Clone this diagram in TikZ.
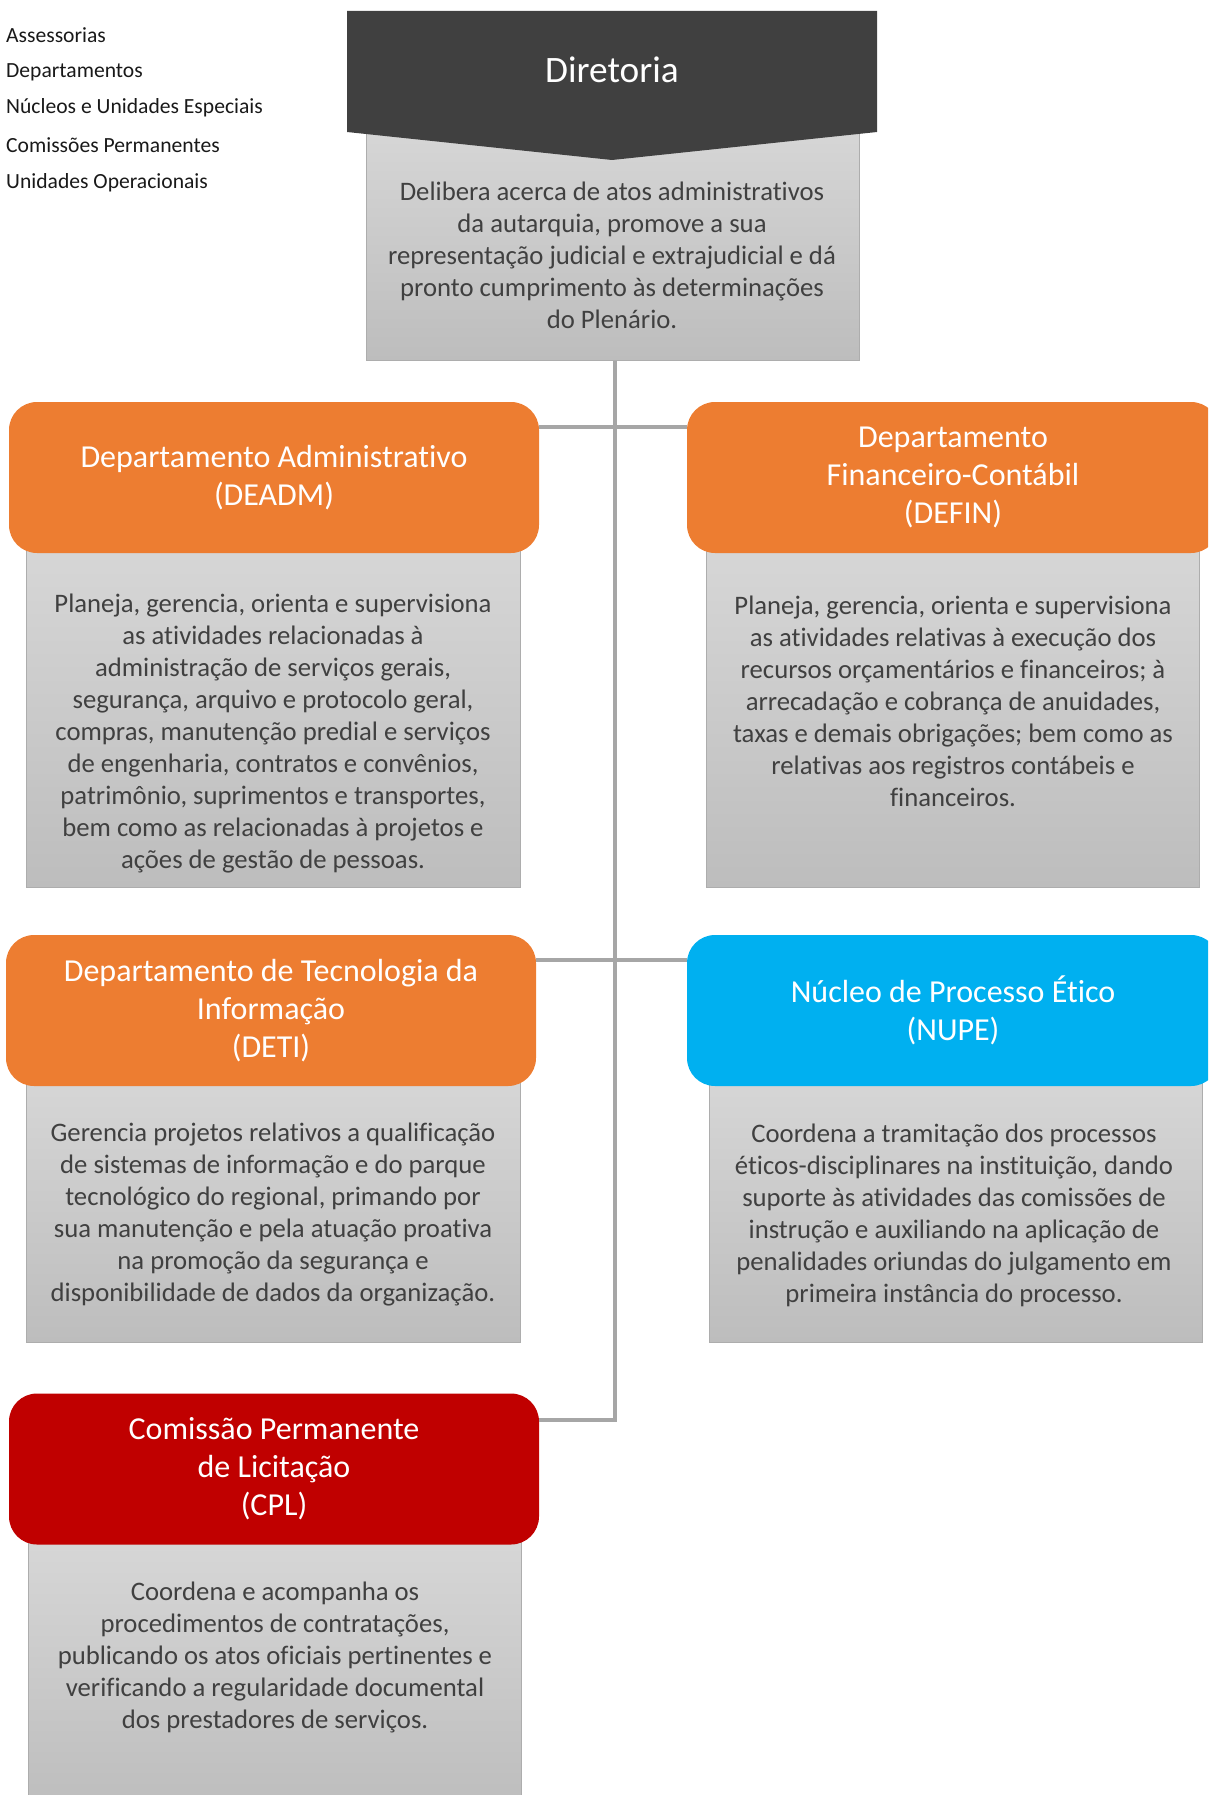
\documentclass[tikz,border=0pt]{standalone}
\usepackage{fontspec}
\setmainfont{Carlito}[Ligatures={NoCommon}]
\definecolor{orng}{HTML}{ED7D31}
\definecolor{nblue}{HTML}{00B0F0}
\definecolor{cred}{HTML}{C00000}
\definecolor{darkhead}{HTML}{404040}
\definecolor{txtgray}{HTML}{404040}
\definecolor{gtop}{HTML}{D7D7D7}
\definecolor{gbot}{HTML}{BDBDBD}
\definecolor{gline}{HTML}{A6A6A6}
\definecolor{gborder}{HTML}{ADADAD}
\tikzset{
  descbox/.style={draw=gborder, line width=1pt, top color=gtop, bottom color=gbot, rectangle, inner sep=0pt},
  headbox/.style={rectangle, rounded corners=28pt, text=white, font=\fontsize{32}{38}\selectfont, align=center, inner sep=0pt},
  desctext/.style={text=txtgray, font=\fontsize{26.7}{32}\selectfont, align=center, inner sep=0pt},
  conn/.style={draw=gline, line width=4pt},
  legendtext/.style={anchor=west, font=\fontsize{21.6}{25}\selectfont, inner sep=0pt, text=black!90},
}
\begin{document}
\begin{tikzpicture}[x=1pt,y=-1pt]
\useasboundingbox (0,0) rectangle (1208,1795);
\clip (0,0) rectangle (1208,1795);
% legend
\node[legendtext] (lg1) at (6,35) {Assessorias};
\node[legendtext] (lg2) at (6,72) {Departamentos};
\node[legendtext] (lg3) at (6,108) {Núcleos e Unidades Especiais};
\node[legendtext] (lg4) at (6,145) {Comissões Permanentes};
\node[legendtext] (lg5) at (6,183) {Unidades Operacionais};

% gray boxes
\node[descbox, minimum width=493pt, minimum height=240pt] (dirbox) at (613,240) {};
\node[descbox, minimum width=494pt, minimum height=347pt] (deadmbox) at (273,713.5) {};
\node[descbox, minimum width=493pt, minimum height=347pt] (definbox) at (952.5,713.5) {};
\node[descbox, minimum width=494pt, minimum height=272pt] (detibox) at (273,1206) {};
\node[descbox, minimum width=493pt, minimum height=272pt] (nupebox) at (955.5,1206) {};
\node[descbox, minimum width=493pt, minimum height=275pt] (cplbox) at (275,1672.5) {};

% Diretoria header
\path[fill=darkhead] (347,11) -- (877,11) -- (877,132) -- (612,160) -- (347,132) -- cycle;
\node[text=white, font=\fontsize{37.3}{42}\selectfont, inner sep=0pt] (dir) at (612,70) {Diretoria};

% junction coordinates
\coordinate (trunkend) at (615,1420);
\coordinate (j1) at (615,427);
\coordinate (j2) at (615,960);

% headers
\node[headbox, fill=orng, minimum width=530pt, minimum height=151pt] (deadm) at (274,477.5) {Departamento Administrativo\\(DEADM)};
\node[headbox, fill=orng, minimum width=532pt, minimum height=151pt] (defin) at (953,477.5) {Departamento\\Financeiro-Contábil\\(DEFIN)};
\node[headbox, fill=orng, minimum width=530pt, minimum height=151pt] (deti) at (271,1010.5) {Departamento de Tecnologia da\\Informação\\(DETI)};
\node[headbox, fill=nblue, minimum width=532pt, minimum height=151pt] (nupe) at (953,1010.5) {Núcleo de Processo Ético\\(NUPE)};
\node[headbox, fill=cred, minimum width=530pt, minimum height=151pt] (cpl) at (274,1469) {Comissão Permanente\\de Licitação\\(CPL)};

% connectors
\draw[conn] (dirbox.south -| trunkend) -- (trunkend) -- (cpl.east |- trunkend);
\draw[conn] (deadm.east |- j1) -- (defin.west |- j1);
\draw[conn] (deti.east |- j2) -- (nupe.west |- j2);

% descriptions
\node[desctext] (dirtext) at (612,255) {Delibera acerca de atos administrativos\\da autarquia, promove a sua\\representação judicial e extrajudicial e dá\\pronto cumprimento às determinações\\do Plenário.};
\node[desctext] (deadmtext) at (273,734) {Planeja, gerencia, orienta e supervisiona\\as atividades relacionadas à\\administração de serviços gerais,\\segurança, arquivo e protocolo geral,\\compras, manutenção predial e serviços\\de engenharia, contratos e convênios,\\patrimônio, suprimentos e transportes,\\bem como as relacionadas à projetos e\\ações de gestão de pessoas.};
\node[desctext] (defintext) at (953,701.5) {Planeja, gerencia, orienta e supervisiona\\as atividades relativas à execução dos\\recursos orçamentários e financeiros; à\\arrecadação e cobrança de anuidades,\\taxas e demais obrigações; bem como as\\relativas aos registros contábeis e\\financeiros.};
\node[desctext] (detitext) at (273,1215) {Gerencia projetos relativos a qualificação\\de sistemas de informação e do parque\\tecnológico do regional, primando por\\sua manutenção e pela atuação proativa\\na promoção da segurança e\\disponibilidade de dados da organização.};
\node[desctext] (nupetext) at (954,1215) {Coordena a tramitação dos processos\\éticos-disciplinares na instituição, dando\\suporte às atividades das comissões de\\instrução e auxiliando na aplicação de\\penalidades oriundas do julgamento em\\primeira instância do processo.};
\node[desctext] (cpltext) at (275,1657.5) {Coordena e acompanha os\\procedimentos de contratações,\\publicando os atos oficiais pertinentes e\\verificando a regularidade documental\\dos prestadores de serviços.};
\end{tikzpicture}
\end{document}
